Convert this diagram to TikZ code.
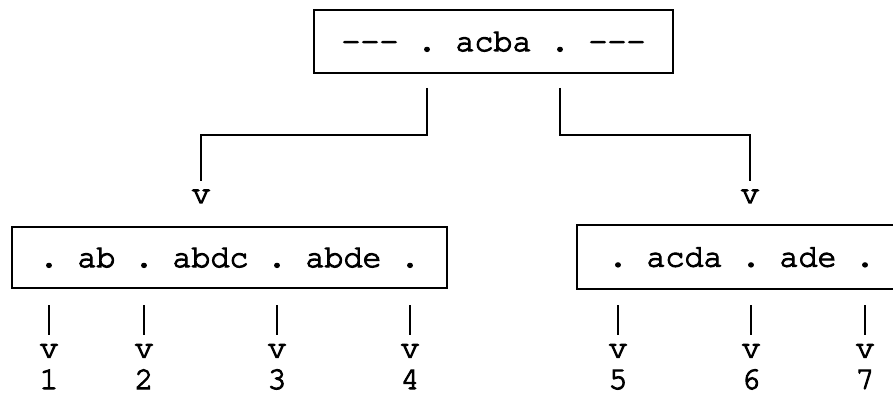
\documentclass[tikz,border=0pt]{standalone}
\usepackage{fontspec}
\newfontfamily\typewriter{TeX Gyre Cursor}[RawFeature={embolden=3.5}]
\begin{document}
\begin{tikzpicture}[x=1pt,y=-1pt,
  every node/.style={font=\typewriter\fontsize{31.67}{38}\selectfont\frenchspacing},
  listbox/.style={draw, line width=2pt, inner sep=0pt, text height=19pt, text depth=0pt},
  tip/.style={inner sep=0pt, anchor=base, text height=13.4pt, text depth=0pt},
  num/.style={inner sep=0pt, anchor=base},
  link/.style={line width=2pt, shorten >=8.5pt},
  bar/.style={line width=1.4pt, shorten >=8.5pt}]
\clip (0,0) rectangle (893,395);

% the three lists
\node[listbox, minimum width=359pt, minimum height=63pt] (root) at (493.5,41.5)
  {-\kern0pt-\kern0pt- . acba . -\kern0pt-\kern0pt-};
\node[listbox, minimum width=435pt, minimum height=61pt] (left) at (229.5,257.5)
  {. ab . abdc . abde .};
\node[listbox, minimum width=329pt, minimum height=64pt] (right) at (741.5,257)
  {. acda . ade .};

% links from the root to its two children
\coordinate (c1) at (427,88);
\coordinate (k1) at (427,135);
\node[tip] (va) at (201,203) {v};
\draw[link] (c1) -- (k1) -| (va.north);

\coordinate (c2) at (560,88);
\coordinate (k2) at (560,135);
\node[tip] (vb) at (750,203) {v};
\draw[link] (c2) -- (k2) -| (vb.north);

% numbered pointers below the leaves
\foreach \x/\n in {49/1, 144/2, 277/3, 410/4, 618/5, 751/6, 865/7} {
  \coordinate (b\n) at (\x,305);
  \node[tip] (v\n) at (\x,357.5) {v};
  \node[num] (n\n) at (\x,389) {\n};
  \draw[bar] (b\n) -- (v\n.north);
}
\end{tikzpicture}
\end{document}
